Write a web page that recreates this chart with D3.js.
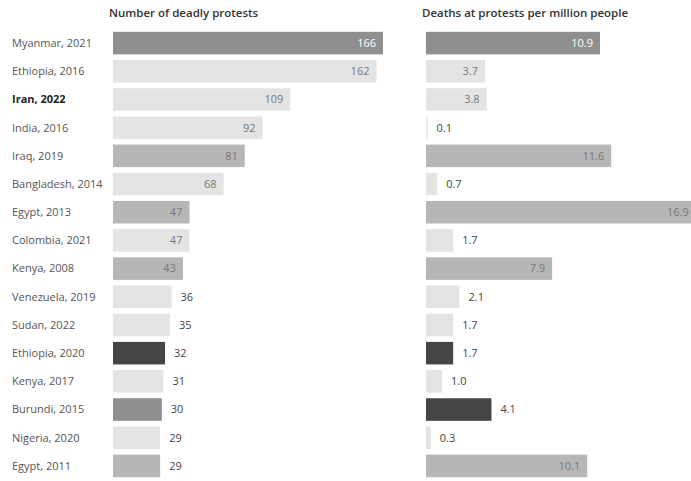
<!DOCTYPE html>
<html>
<head>
<meta charset="utf-8">
<script src="https://cdn.jsdelivr.net/npm/d3@7"></script>
<style>
  body { margin: 0; background: #fff; }
  svg { font-family: "Open Sans", "Noto Sans", sans-serif; }
</style>
</head>
<body>
<div id="chart"></div>
<script>
// data
var countries = ["Myanmar, 2021", "Ethiopia, 2016", "Iran, 2022", "India, 2016", "Iraq, 2019",
  "Bangladesh, 2014", "Egypt, 2013", "Colombia, 2021", "Kenya, 2008", "Venezuela, 2019",
  "Sudan, 2022", "Ethiopia, 2020", "Kenya, 2017", "Burundi, 2015", "Nigeria, 2020", "Egypt, 2011"];
var deadlyProtests = [166, 162, 109, 92, 81, 68, 47, 47, 43, 36, 35, 32, 31, 30, 29, 29];
var deathsPerMillion = [10.9, 3.7, 3.8, 0.1, 11.6, 0.7, 16.9, 1.7, 7.9, 2.1, 1.7, 1.7, 1.0, 4.1, 0.3, 10.1];
var deathsLabels = ["10.9", "3.7", "3.8", "0.1", "11.6", "0.7", "16.9", "1.7", "7.9", "2.1", "1.7", "1.7", "1.0", "4.1", "0.3", "10.1"];
// shade group of each bar (the scan shows Burundi differently in the two panels)
var shadeLeft  = ["mid", "light", "light", "light", "soft", "light", "soft", "light", "soft", "light", "light", "dark", "light", "mid", "light", "soft"];
var shadeRight = ["mid", "light", "light", "light", "soft", "light", "soft", "light", "soft", "light", "light", "dark", "light", "dark", "light", "soft"];
var highlight = "Iran, 2022";

const W = 691, H = 481;
const svg = d3.select("#chart").append("svg")
  .attr("width", W)
  .attr("height", H);

const shade = d3.scaleOrdinal()
  .domain(["dark", "mid", "soft", "light"])
  .range(["#454545", "#8f8f8f", "#b6b6b6", "#e4e4e4"]);

const y = d3.scaleBand()
  .domain(countries)
  .range([29, 480])
  .paddingInner(0.2)
  .paddingOuter(0.1);

// row labels
svg.append("g").selectAll("text")
  .data(countries)
  .join("text")
  .attr("x", 12)
  .attr("y", d => y(d) + y.bandwidth() / 2)
  .attr("dy", "0.35em")
  .style("font-size", "11px")
  .style("font-weight", d => d == highlight ? "bold" : "normal")
  .style("fill", d => d == highlight ? "#222" : "#555")
  .text(d => d);

function panel(values, labels, shades, x, title, insideMin) {
  const g = svg.append("g");

  g.append("text")
    .attr("x", x.range()[0] - 4)
    .attr("y", 17)
    .style("font-size", "11.5px")
    .style("font-weight", "600")
    .style("fill", "#333")
    .text(title);

  const rows = countries.map((c, i) => ({c: c, v: values[i], l: labels[i], s: shades[i]}));

  g.selectAll("rect")
    .data(rows)
    .join("rect")
    .attr("x", x(0))
    .attr("y", d => y(d.c))
    .attr("width", d => x(d.v) - x(0))
    .attr("height", y.bandwidth())
    .style("fill", d => shade(d.s));

  g.selectAll("text.val")
    .data(rows)
    .join("text")
    .attr("class", "val")
    .attr("x", d => d.v >= insideMin && d.s != "dark" ? x(d.v) - 7 : x(d.v) + 9)
    .attr("y", d => y(d.c) + y.bandwidth() / 2)
    .attr("dy", "0.35em")
    .attr("text-anchor", d => d.v >= insideMin && d.s != "dark" ? "end" : "start")
    .style("font-size", "11px")
    .style("fill", d => {
      if (d.v >= insideMin && d.s != "dark") return d.s == "mid" ? "#fff" : "#777";
      return "#444";
    })
    .text(d => d.l);
}

const xLeft = d3.scaleLinear().domain([0, 166]).range([113, 383]);
const xRight = d3.scaleLinear().domain([0, 10.9]).range([426, 600]);

panel(deadlyProtests, deadlyProtests.map(String), shadeLeft, xLeft, "Number of deadly protests", 40);
panel(deathsPerMillion, deathsLabels, shadeRight, xRight, "Deaths at protests per million people", 3);
</script>
</body>
</html>
